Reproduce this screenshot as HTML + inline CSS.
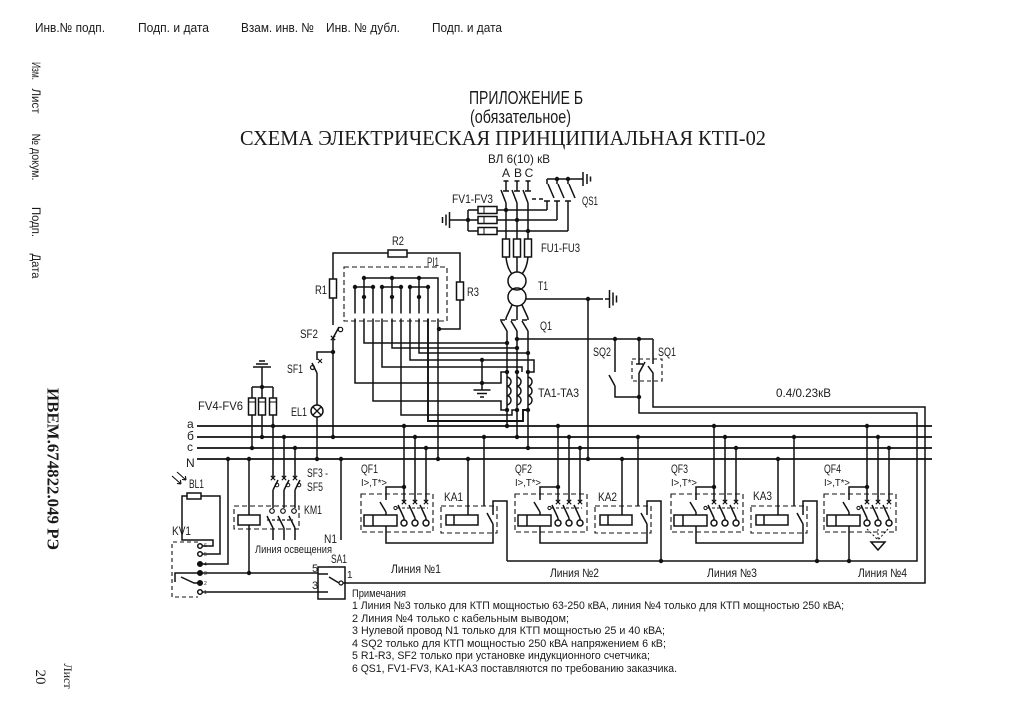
<!DOCTYPE html>
<html><head><meta charset="utf-8">
<style>
html,body{margin:0;padding:0;background:#fff;}
svg{display:block;}
text{font-family:"Liberation Sans","DejaVu Sans",sans-serif;fill:#1a1a1a;stroke:none;}
.sr{font-family:"Liberation Serif","DejaVu Serif",serif;}
</style></head><body>
<svg width="1024" height="724" viewBox="0 0 1024 724" xmlns="http://www.w3.org/2000/svg">
<rect width="1024" height="724" fill="#fff"/>
<defs>
<g id="qf">
<path d="M404 426V502M415 437V502M426 448V502"/>
<path d="M401.8 499.8l4.4 4.4M406.2 499.8l-4.4 4.4M412.8 499.8l4.4 4.4M417.2 499.8l-4.4 4.4M423.8 499.8l4.4 4.4M428.2 499.8l-4.4 4.4" stroke-width="1.1"/>
<path d="M404 518L398 505M415 518L409 505M426 518L420 505M404 518V520M415 518V520M426 518V520"/>
<circle cx="404" cy="523" r="3" fill="#fff"/><circle cx="415" cy="523" r="3" fill="#fff"/><circle cx="426" cy="523" r="3" fill="#fff"/>
<path d="M397 508H428" stroke-dasharray="3 2" stroke-width="1.1"/>
<circle cx="395.5" cy="508" r="1.6" fill="#fff" stroke-width="1"/>
<path d="M404 487H386V500M386 512L380 502M386 512V515"/>
<rect x="364" y="515" width="33" height="11" fill="#fff"/>
<path d="M373 515V526"/>
<rect x="361" y="494" width="72" height="38" stroke-dasharray="5 3" stroke-width="1.1"/>
</g>
<g id="ka">
<rect x="441" y="506" width="56" height="27" stroke-dasharray="5 3" stroke-width="1.1"/>
<rect x="446" y="515" width="32" height="10" fill="#fff"/>
<path d="M454 515V525"/>
<path d="M468 459V515M484 437V506"/>
<path d="M386 526V543H493V524M493 524L487 513M493 515V501H507V561"/>
</g>
</defs>

<!-- header -->
<g font-size="13">
<text x="35" y="32" textLength="70" lengthAdjust="spacingAndGlyphs">Инв.№ подп.</text>
<text x="138" y="32" textLength="71" lengthAdjust="spacingAndGlyphs">Подп. и дата</text>
<text x="241" y="32" textLength="73" lengthAdjust="spacingAndGlyphs">Взам. инв. №</text>
<text x="326" y="32" textLength="74" lengthAdjust="spacingAndGlyphs">Инв. № дубл.</text>
<text x="432" y="32" textLength="70" lengthAdjust="spacingAndGlyphs">Подп. и дата</text>
</g>
<g font-size="12" text-anchor="middle" dominant-baseline="central">
<text transform="translate(36,71) rotate(90)" textLength="18" lengthAdjust="spacingAndGlyphs">Изм.</text>
<text transform="translate(36,101) rotate(90)" textLength="25" lengthAdjust="spacingAndGlyphs">Лист</text>
<text transform="translate(36,157) rotate(90)" textLength="47" lengthAdjust="spacingAndGlyphs">№ докум.</text>
<text transform="translate(36,222) rotate(90)" textLength="30" lengthAdjust="spacingAndGlyphs">Подп.</text>
<text transform="translate(36,266) rotate(90)" textLength="25" lengthAdjust="spacingAndGlyphs">Дата</text>
</g>
<text class="sr" transform="translate(53,469) rotate(90)" text-anchor="middle" dominant-baseline="central" font-size="17" font-weight="bold" textLength="162" lengthAdjust="spacingAndGlyphs">ИВЕМ.674822.049 РЭ</text>
<text class="sr" transform="translate(68,676) rotate(90)" text-anchor="middle" dominant-baseline="central" font-size="12">Лист</text>
<text class="sr" transform="translate(40,677) rotate(90)" text-anchor="middle" dominant-baseline="central" font-size="15">20</text>

<!-- titles -->
<text x="469" y="104" font-size="18" textLength="114" lengthAdjust="spacingAndGlyphs">ПРИЛОЖЕНИЕ Б</text>
<text x="470" y="123" font-size="18" textLength="101" lengthAdjust="spacingAndGlyphs">(обязательное)</text>
<text class="sr" x="240" y="145" font-size="21" textLength="526" lengthAdjust="spacingAndGlyphs">СХЕМА ЭЛЕКТРИЧЕСКАЯ ПРИНЦИПИАЛЬНАЯ КТП-02</text>

<!-- labels -->
<g font-size="12">
<text x="488" y="163" textLength="62" lengthAdjust="spacingAndGlyphs">ВЛ  6(10) кВ</text>
<text x="506" y="177" text-anchor="middle">A</text>
<text x="518" y="177" text-anchor="middle">B</text>
<text x="529" y="177" text-anchor="middle">C</text>
<text x="452" y="203" textLength="41" lengthAdjust="spacingAndGlyphs">FV1-FV3</text>
<text x="582" y="205" textLength="16" lengthAdjust="spacingAndGlyphs">QS1</text>
<text x="541" y="252" textLength="39" lengthAdjust="spacingAndGlyphs">FU1-FU3</text>
<text x="538" y="290" textLength="10" lengthAdjust="spacingAndGlyphs">T1</text>
<text x="540" y="330" textLength="12" lengthAdjust="spacingAndGlyphs">Q1</text>
<text x="392" y="245" textLength="12" lengthAdjust="spacingAndGlyphs">R2</text>
<text x="427" y="266" textLength="12" lengthAdjust="spacingAndGlyphs">PI1</text>
<text x="315" y="294" textLength="12" lengthAdjust="spacingAndGlyphs">R1</text>
<text x="467" y="296" textLength="12" lengthAdjust="spacingAndGlyphs">R3</text>
<text x="300" y="338" textLength="18" lengthAdjust="spacingAndGlyphs">SF2</text>
<text x="287" y="373" textLength="16" lengthAdjust="spacingAndGlyphs">SF1</text>
<text x="291" y="416" textLength="16" lengthAdjust="spacingAndGlyphs">EL1</text>
<text x="198" y="410" textLength="45" lengthAdjust="spacingAndGlyphs">FV4-FV6</text>
<text x="538" y="397" textLength="41" lengthAdjust="spacingAndGlyphs">TA1-TA3</text>
<text x="593" y="356" textLength="18" lengthAdjust="spacingAndGlyphs">SQ2</text>
<text x="658" y="356" textLength="18" lengthAdjust="spacingAndGlyphs">SQ1</text>
<text x="776" y="397" textLength="55" lengthAdjust="spacingAndGlyphs">0.4/0.23кВ</text>
<text x="187" y="428">a</text>
<text x="187" y="440">б</text>
<text x="187" y="451">c</text>
<text x="186" y="467">N</text>
<text x="189" y="488" textLength="15" lengthAdjust="spacingAndGlyphs">BL1</text>
<text x="172" y="535" textLength="19" lengthAdjust="spacingAndGlyphs">KV1</text>
<text x="307" y="477" textLength="21" lengthAdjust="spacingAndGlyphs">SF3 -</text>
<text x="307" y="491" textLength="16" lengthAdjust="spacingAndGlyphs">SF5</text>
<text x="304" y="514" textLength="18" lengthAdjust="spacingAndGlyphs">KM1</text>
<text x="255" y="553" font-size="11" textLength="77" lengthAdjust="spacingAndGlyphs">Линия освещения</text>
<text x="324" y="543" textLength="13" lengthAdjust="spacingAndGlyphs">N1</text>
<text x="331" y="563" textLength="16" lengthAdjust="spacingAndGlyphs">SA1</text>
<text x="312" y="572" font-size="11">5</text>
<text x="312" y="589" font-size="11">3</text>
<text x="347" y="578" font-size="10">1</text>
<text x="361" y="473" textLength="17" lengthAdjust="spacingAndGlyphs">QF1</text>
<text x="515" y="473" textLength="17" lengthAdjust="spacingAndGlyphs">QF2</text>
<text x="671" y="473" textLength="17" lengthAdjust="spacingAndGlyphs">QF3</text>
<text x="824" y="473" textLength="17" lengthAdjust="spacingAndGlyphs">QF4</text>
<text x="444" y="501" textLength="19" lengthAdjust="spacingAndGlyphs">KA1</text>
<text x="598" y="501" textLength="19" lengthAdjust="spacingAndGlyphs">KA2</text>
<text x="753" y="500" textLength="19" lengthAdjust="spacingAndGlyphs">KA3</text>
<text x="391" y="573" textLength="50" lengthAdjust="spacingAndGlyphs">Линия №1</text>
<text x="550" y="577" textLength="49" lengthAdjust="spacingAndGlyphs">Линия №2</text>
<text x="707" y="577" textLength="50" lengthAdjust="spacingAndGlyphs">Линия №3</text>
<text x="858" y="577" textLength="49" lengthAdjust="spacingAndGlyphs">Линия №4</text>
</g>
<g font-size="10">
<text x="361" y="486" textLength="26" lengthAdjust="spacingAndGlyphs">I&gt;,T*&gt;</text>
<text x="515" y="486" textLength="26" lengthAdjust="spacingAndGlyphs">I&gt;,T*&gt;</text>
<text x="671" y="486" textLength="26" lengthAdjust="spacingAndGlyphs">I&gt;,T*&gt;</text>
<text x="824" y="486" textLength="26" lengthAdjust="spacingAndGlyphs">I&gt;,T*&gt;</text>
</g>
<g font-size="7.5">
<text x="366" y="524">U</text><text x="520" y="524">U</text><text x="676" y="524">U</text><text x="829" y="524">U</text>
<text x="448.5" y="523">I</text><text x="602.5" y="523">I</text><text x="758.5" y="523">I</text>
</g>
<g font-size="5">
<text x="204" y="547">6</text><text x="204" y="556">5</text><text x="204" y="566">4</text><text x="204" y="575">3</text><text x="204" y="585">2</text><text x="204" y="594">1</text>
</g>

<!-- notes -->
<g font-size="11">
<text x="352" y="597" textLength="54" lengthAdjust="spacingAndGlyphs">Примечания</text>
<text x="352" y="609" textLength="492" lengthAdjust="spacingAndGlyphs">1 Линия №3 только для КТП мощностью 63-250 кВА, линия №4 только для КТП мощностью 250 кВА;</text>
<text x="352" y="622" textLength="217" lengthAdjust="spacingAndGlyphs">2 Линия №4 только с кабельным выводом;</text>
<text x="352" y="634" textLength="313" lengthAdjust="spacingAndGlyphs">3 Нулевой провод N1 только для  КТП мощностью 25 и 40 кВА;</text>
<text x="352" y="647" textLength="314" lengthAdjust="spacingAndGlyphs">4 SQ2  только для КТП мощностью 250 кВА напряжением 6 кВ;</text>
<text x="352" y="659" textLength="298" lengthAdjust="spacingAndGlyphs">5 R1-R3, SF2 только при установке индукционного счетчика;</text>
<text x="352" y="672" textLength="325" lengthAdjust="spacingAndGlyphs">6 QS1, FV1-FV3, KA1-KA3 поставляются по требованию заказчика.</text>
</g>

<g fill="none" stroke="#111" stroke-width="1.5">
<!-- buses -->
<path d="M197 426H932M197 437H932M197 448H932M197 459H932" stroke-width="1.8"/>

<!-- HV input and disconnector -->
<path d="M503.5 181H508.5M514.5 181H519.5M525.5 181H530.5M506 181V191M517 181V191M528 181V191"/>
<path d="M503 191H509M514 191H520M525 191H531"/>
<path d="M506 203L501 190M517 203L512 190M528 203L523 190"/>
<path d="M506 203V239M517 203V239M528 203V239"/>
<path d="M532 199H546" stroke-dasharray="4 3"/>
<!-- QS1 -->
<path d="M547 179H583M547 179V184M557 179V184M568 179V184"/>
<path d="M548 184L554 198M558 184L564 198M569 184L575 198"/>
<path d="M544 201H550M554 201H560M565 201H571M547 201V210M557 201V220M568 201V231"/>
<path d="M583 172V186M587 174V184M590.5 176.5V181.5"/>
<!-- FV1-FV3 rows -->
<path d="M468 210H478M497 210H547M468 220H478M497 220H557M468 231H478M497 231H568M468 210V231M468 220H450"/>
<rect x="478" y="206.5" width="19" height="7"/><rect x="478" y="216.5" width="19" height="7"/><rect x="478" y="227.5" width="19" height="7"/>
<path d="M484 206.5V213.5M484 216.5V223.5M484 227.5V234.5" stroke-width="1"/>
<path d="M449.5 212V228M446 214.5V225.5M442.5 217V223"/>
<!-- fuses -->
<rect x="502.5" y="239" width="7" height="18"/><rect x="513.5" y="239" width="7" height="18"/><rect x="524.5" y="239" width="7" height="18"/>
<!-- transformer -->
<path d="M506 257Q507 268 512 274M517 257V272M528 257Q527 268 522 274"/>
<circle cx="517" cy="281" r="9"/><circle cx="517" cy="297" r="9"/>
<path d="M512 305L506 318M517 306V318M522 305L528 318"/>
<path d="M526 299H603M605 299H609M609.5 290V308M613 292.5V305.5M616.5 295.5V302.5"/>
<!-- Q1 -->
<path d="M500 320H505M511 320H516M522 320H527M506 318V320M517 318V320M528 318V320"/>
<path d="M507 331L501 321M517 331L511 321M528 331L522 321"/>
<path d="M507 331V426M517 331V437M528 331V448"/>
<!-- CT coils -->
<path d="M507 377a4.7 4.7 0 0 1 0 9.3a4.7 4.7 0 0 1 0 9.3a4.7 4.7 0 0 1 0 9.3"/>
<path d="M517 377a4.7 4.7 0 0 1 0 9.3a4.7 4.7 0 0 1 0 9.3a4.7 4.7 0 0 1 0 9.3"/>
<path d="M528 377a4.7 4.7 0 0 1 0 9.3a4.7 4.7 0 0 1 0 9.3a4.7 4.7 0 0 1 0 9.3"/>
<!-- neutral down -->
<path d="M588 299V459"/>
<!-- SQ -->
<path d="M517 339H653"/>
<path d="M615 339V372M615 386L609 375M615 386V397H639"/>
<path d="M639 339V364M636 364H643M639 373L645 362M639 373V413H917V561H507"/>
<path d="M653 339V364M648 366L653 373V407H925V583H343"/>
<rect x="632" y="359" width="30" height="22" stroke-dasharray="4 3" stroke-width="1.1"/>

<!-- R / PI1 -->
<path d="M333 279V253H460V282M460 300V329H439"/>
<rect x="388" y="250" width="19" height="7" fill="#fff"/>
<rect x="329.5" y="279" width="7" height="19" fill="#fff"/>
<rect x="456.5" y="282" width="7" height="18" fill="#fff"/>
<rect x="344" y="267" width="103" height="54" stroke-dasharray="5 3" stroke-width="1.1"/>
<path d="M364 278H438V313.5M364 278V313.5M392 278V313.5M419 278V313.5"/>
<path d="M355 287H373M382 287H401M410 287H428M355 287V313.5M373 287V313.5M382 287V313.5M401 287V313.5M410 287V313.5M428 287V313.5"/>
<!-- PI1 outgoing wires -->
<path d="M355 318.5V383H501V372H507"/>
<path d="M364 318.5V343H507"/>
<path d="M373 318.5V401H501V410H507"/>
<path d="M382 318.5V367H522V372"/>
<path d="M392 318.5V348H517"/>
<path d="M401 318.5V415H512V410H517"/>
<path d="M410 318.5V360H534V372H528"/>
<path d="M419 318.5V353H528"/>
<path d="M428 318.5V421H523V410H528" stroke-width="1.9"/>
<path d="M438 318.5V459"/>
<path d="M482 360V390M473.5 390H490.5M477 393.5H487M480 397H484"/>
<!-- SF2, SF1, EL1 -->
<path d="M333 298V325M333 338L339 327M333 338V437"/>
<circle cx="340.5" cy="329.5" r="2.2" stroke-width="1.2"/>
<path d="M330.8 335.8l4.4 4.4M335.2 335.8l-4.4 4.4" stroke-width="1.1"/>
<path d="M333 352H317V360M317 373L312 363M317 373V405M317 417V459"/>
<path d="M318 359l4 4M322 359l-4 4" stroke-width="1.1"/>
<circle cx="312.5" cy="367.5" r="2" stroke-width="1.2"/>
<circle cx="317" cy="411" r="6"/>
<path d="M313 407L321 415M321 407L313 415" stroke-width="1.3"/>

<!-- FV4-FV6 -->
<path d="M253 367H271M256 364H268M259 361H265M262 367V387M252 387H273M252 387V398M262 387V398M273 387V398"/>
<rect x="248.5" y="398" width="7" height="17"/><rect x="258.5" y="398" width="7" height="17"/><rect x="269.5" y="398" width="7" height="17"/>
<path d="M248.5 402H255.5M258.5 402H265.5M269.5 402H276.5" stroke-width="1"/>
<path d="M252 415V448M262 415V437M273 415V478M284 437V478M295 448V478"/>
<!-- SF3-SF5 -->
<path d="M270.8 475.8l4.4 4.4M275.2 475.8l-4.4 4.4M281.8 475.8l4.4 4.4M286.2 475.8l-4.4 4.4M292.8 475.8l4.4 4.4M297.2 475.8l-4.4 4.4" stroke-width="1.1"/>
<path d="M273 490L278 480M284 490L289 480M295 490L300 480M273 490V508M284 490V508M295 490V508"/>
<circle cx="277" cy="485" r="1.8" stroke-width="1"/><circle cx="288" cy="485" r="1.8" stroke-width="1"/><circle cx="299" cy="485" r="1.8" stroke-width="1"/>
<circle cx="272" cy="511" r="2.3" stroke-width="1.2"/><circle cx="283" cy="511" r="2.3" stroke-width="1.2"/><circle cx="294" cy="511" r="2.3" stroke-width="1.2"/>
<path d="M273 528L267 516M284 528L278 516M295 528L289 516M273 528V540M284 528V540M295 528V540"/>
<path d="M267 520H293" stroke-dasharray="3 2" stroke-width="1.3"/>
<rect x="234" y="506" width="65" height="23" stroke-dasharray="5 3" stroke-width="1.1"/>
<rect x="238" y="515" width="22" height="10" fill="#fff"/>
<path d="M249 459V515M249 525V574"/>
<path d="M341 459V540"/>
<!-- KV1 / BL1 / SA1 -->
<path d="M172 476L181 484M177 472L186 480M181 484l-4 -0.6M181 484l-0.6 -4M186 480l-4 -0.6M186 480l-0.6 -4" stroke-width="1.1"/>
<rect x="187" y="493" width="14" height="6"/>
<path d="M201 496H220V554H202.3M187 496H182V540H213V546H202.3"/>
<path d="M228 459V564H202.3"/>
<path d="M197.7 573H175V582M181 577L194 583H197.7"/>
<path d="M202.3 573H318M202.3 592H318"/>
<path d="M198 542H172V597H198" stroke-dasharray="4 3" stroke-width="1.1"/>
<circle cx="200" cy="546" r="2.3"/><circle cx="200" cy="554" r="2.3"/><circle cx="200" cy="564" r="2.3"/><circle cx="200" cy="573" r="2.3"/><circle cx="200" cy="583" r="2.3"/><circle cx="200" cy="592" r="2.3"/>
<rect x="318" y="567" width="27" height="32"/>
<path d="M318 574H328M318 592H328M329 577L339 583"/>
<circle cx="341" cy="583" r="2" fill="#fff" stroke-width="1.2"/>

<!-- feeders -->
<use href="#qf"/>
<use href="#qf" x="154"/>
<use href="#qf" x="310"/>
<use href="#qf" x="463"/>
<use href="#ka"/>
<use href="#ka" x="154"/>
<use href="#ka" x="310"/>
<path d="M849 526V561"/>
<path d="M867 529L878 540M878 529V540M888 529L878 540" stroke-dasharray="2 2" stroke-width="1"/>
<path d="M871 542H885L878 550Z"/>
</g>

<!-- dots -->
<g fill="#111">
<circle cx="506" cy="210" r="2.2"/><circle cx="517" cy="220" r="2.2"/><circle cx="528" cy="231" r="2.2"/><circle cx="468" cy="220" r="2.2"/>
<circle cx="557" cy="179" r="2.2"/><circle cx="568" cy="179" r="2.2"/><circle cx="588" cy="299" r="2.2"/>
<circle cx="364" cy="278" r="2.2"/><circle cx="392" cy="278" r="2.2"/><circle cx="419" cy="278" r="2.2"/>
<circle cx="364" cy="297" r="2.2"/><circle cx="392" cy="297" r="2.2"/><circle cx="419" cy="297" r="2.2"/>
<circle cx="355" cy="287" r="2.2"/><circle cx="373" cy="287" r="2.2"/><circle cx="382" cy="287" r="2.2"/><circle cx="401" cy="287" r="2.2"/><circle cx="410" cy="287" r="2.2"/><circle cx="428" cy="287" r="2.2"/>
<circle cx="439" cy="329" r="2.2"/><circle cx="333" cy="352" r="2.2"/><circle cx="333" cy="437" r="2.2"/><circle cx="317" cy="459" r="2.2"/>
<circle cx="507" cy="343" r="2.2"/><circle cx="517" cy="339" r="2.2"/><circle cx="517" cy="348" r="2.2"/><circle cx="528" cy="353" r="2.2"/>
<circle cx="482" cy="360" r="2.2"/><circle cx="482" cy="383" r="2.2"/>
<circle cx="507" cy="372" r="2.2"/><circle cx="517" cy="372" r="2.2"/><circle cx="528" cy="372" r="2.2"/>
<circle cx="507" cy="410" r="2.2"/><circle cx="517" cy="410" r="2.2"/><circle cx="528" cy="410" r="2.2"/>
<circle cx="507" cy="426" r="2.2"/><circle cx="517" cy="437" r="2.2"/><circle cx="528" cy="448" r="2.2"/><circle cx="588" cy="459" r="2.2"/>
<circle cx="615" cy="339" r="2.2"/><circle cx="639" cy="339" r="2.2"/><circle cx="639" cy="397" r="2.2"/>
<circle cx="262" cy="387" r="2.2"/><circle cx="252" cy="448" r="2.2"/><circle cx="262" cy="437" r="2.2"/><circle cx="273" cy="426" r="2.2"/><circle cx="284" cy="437" r="2.2"/><circle cx="295" cy="448" r="2.2"/>
<circle cx="228" cy="459" r="2.2"/><circle cx="249" cy="459" r="2.2"/><circle cx="341" cy="459" r="2.2"/><circle cx="438" cy="459" r="2.2"/><circle cx="249" cy="573" r="2.2"/>
<circle cx="404" cy="426" r="2.2"/><circle cx="415" cy="437" r="2.2"/><circle cx="426" cy="448" r="2.2"/><circle cx="404" cy="487" r="2.2"/>
<circle cx="558" cy="426" r="2.2"/><circle cx="569" cy="437" r="2.2"/><circle cx="580" cy="448" r="2.2"/><circle cx="558" cy="487" r="2.2"/>
<circle cx="714" cy="426" r="2.2"/><circle cx="725" cy="437" r="2.2"/><circle cx="736" cy="448" r="2.2"/><circle cx="714" cy="487" r="2.2"/>
<circle cx="867" cy="426" r="2.2"/><circle cx="878" cy="437" r="2.2"/><circle cx="889" cy="448" r="2.2"/><circle cx="867" cy="487" r="2.2"/>
<circle cx="468" cy="459" r="2.2"/><circle cx="484" cy="437" r="2.2"/>
<circle cx="622" cy="459" r="2.2"/><circle cx="638" cy="437" r="2.2"/>
<circle cx="778" cy="459" r="2.2"/><circle cx="794" cy="437" r="2.2"/>
<circle cx="661" cy="561" r="2.2"/><circle cx="817" cy="561" r="2.2"/><circle cx="849" cy="561" r="2.2"/>
<circle cx="200" cy="573" r="2.3"/><circle cx="200" cy="564" r="2.3"/><circle cx="200" cy="583" r="2.3"/>
</g>
</svg>
</body></html>
